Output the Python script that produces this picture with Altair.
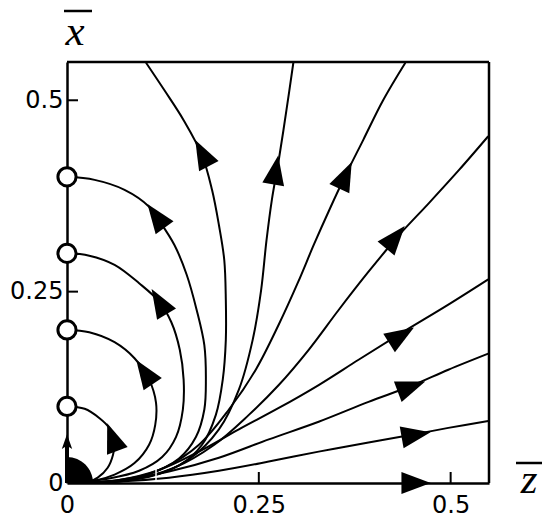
import math
import altair as alt
import pandas as pd

W, H = 422, 421
DOM = [0, 0.55]

# ---- trajectories (z, x), ordered from the origin outward ----
c1_z = [0, 0.029, 0.040, 0.053, 0.060, 0.062, 0.055, 0.042, 0.023, 0.0]
c1_x = [0, 0.002, 0.007, 0.020, 0.037, 0.053, 0.072, 0.085, 0.097, 0.1]
c2_z = [0, 0.036, 0.062, 0.088, 0.107, 0.115, 0.116, 0.107, 0.088, 0.062, 0.029, 0.0]
c2_x = [0, 0.003, 0.011, 0.026, 0.050, 0.076, 0.105, 0.135, 0.163, 0.184, 0.197, 0.2]
c3_z = [0, 0.055, 0.094, 0.124, 0.142, 0.151, 0.152, 0.147, 0.136, 0.120, 0.094, 0.062, 0.029, 0.0]
c3_x = [0, 0.006, 0.016, 0.034, 0.060, 0.096, 0.135, 0.174, 0.210, 0.237, 0.261, 0.285, 0.297, 0.3]
c4_z = [0, 0.062, 0.107, 0.146, 0.168, 0.179, 0.181, 0.179, 0.169, 0.156, 0.140, 0.120, 0.107, 0.075, 0.036, 0.0]
c4_x = [0, 0.003, 0.012, 0.032, 0.060, 0.096, 0.135, 0.180, 0.226, 0.272, 0.311, 0.343, 0.361, 0.383, 0.396, 0.4]
c5_z = [0, 0.094, 0.146, 0.176, 0.194, 0.203, 0.207, 0.207, 0.205, 0.198, 0.189, 0.176, 0.152, 0.127, 0.103]
c5_x = [0, 0.006, 0.023, 0.050, 0.089, 0.135, 0.187, 0.239, 0.291, 0.337, 0.383, 0.428, 0.474, 0.513, 0.549]
c6_z = [0, 0.107, 0.159, 0.198, 0.224, 0.242, 0.253, 0.260, 0.267, 0.276, 0.286, 0.295]
c6_x = [0, 0.008, 0.031, 0.070, 0.122, 0.187, 0.252, 0.317, 0.370, 0.422, 0.487, 0.549]
c7_z = [0, 0.081, 0.127, 0.172, 0.211, 0.246, 0.276, 0.301, 0.322, 0.342, 0.363, 0.386, 0.412, 0.441]
c7_x = [0, 0.004, 0.020, 0.050, 0.096, 0.148, 0.207, 0.262, 0.312, 0.357, 0.402, 0.448, 0.500, 0.549]
c8_z = [0, 0.081, 0.140, 0.192, 0.237, 0.276, 0.315, 0.354, 0.393, 0.432, 0.472, 0.511, 0.549]
c8_x = [0, 0.004, 0.020, 0.050, 0.089, 0.128, 0.174, 0.226, 0.276, 0.323, 0.366, 0.409, 0.453]
c9_z = [0, 0.068, 0.120, 0.172, 0.224, 0.276, 0.328, 0.380, 0.436, 0.497, 0.549]
c9_x = [0, 0.004, 0.017, 0.041, 0.070, 0.098, 0.128, 0.161, 0.196, 0.233, 0.266]
c10_z = [0, 0.068, 0.133, 0.198, 0.263, 0.328, 0.393, 0.449, 0.497, 0.549]
c10_x = [0, 0.003, 0.015, 0.033, 0.057, 0.080, 0.106, 0.127, 0.148, 0.169]
c11_z = [0, 0.068, 0.133, 0.198, 0.263, 0.328, 0.393, 0.455, 0.497, 0.549]
c11_x = [0, 0.002, 0.007, 0.016, 0.028, 0.041, 0.053, 0.064, 0.072, 0.081]
zaxis_z = [0, 0.55]
zaxis_x = [0, 0]
xaxis_z = [0, 0]
xaxis_x = [0, 0.55]

curves = {
    "c1": (c1_z, c1_x), "c2": (c2_z, c2_x), "c3": (c3_z, c3_x), "c4": (c4_z, c4_x),
    "c5": (c5_z, c5_x), "c6": (c6_z, c6_x), "c7": (c7_z, c7_x), "c8": (c8_z, c8_x),
    "c9": (c9_z, c9_x), "c10": (c10_z, c10_x), "c11": (c11_z, c11_x),
}
guides = {"zaxis": (zaxis_z, zaxis_x), "xaxis": (xaxis_z, xaxis_x)}

# ---- arrow heads (curve, z, x) ----
arrow_curve = ["c1", "c2", "c3", "c4", "c5", "c6", "c7", "c8", "c9", "c10", "c11", "zaxis"]
arrow_z = [0.059, 0.101, 0.120, 0.116, 0.176, 0.272, 0.363, 0.428, 0.436, 0.449, 0.455, 0.455]
arrow_x = [0.060, 0.145, 0.237, 0.349, 0.431, 0.409, 0.402, 0.321, 0.193, 0.126, 0.063, 0.0]

small_arrow_z = [0.0]
small_arrow_x = [0.054]

# ---- fixed points (open circles) ----
circle_z = [0, 0, 0, 0]
circle_x = [0.1, 0.2, 0.3, 0.4]

tick_vals = [0.25, 0.5]
label_vals = [0, 0.25, 0.5]

# ---------------------------------------------------------------------------
rows = []
for name, (zs, xs_) in curves.items():
    for i, (a, b) in enumerate(zip(zs, xs_)):
        rows.append({"curve": name, "i": i, "z": a, "x": b})
lines_df = pd.DataFrame(rows)

allc = dict(curves)
allc.update(guides)


def heading(name, pz, px):
    zs, xs_ = allc[name]
    best, bj = 1e9, 0
    for j in range(len(zs) - 1):
        ax, ay, bx, by = zs[j], xs_[j], zs[j + 1], xs_[j + 1]
        dx, dy = bx - ax, by - ay
        L = dx * dx + dy * dy
        t = 0 if L == 0 else max(0, min(1, ((pz - ax) * dx + (px - ay) * dy) / L))
        d = (ax + t * dx - pz) ** 2 + (ay + t * dy - px) ** 2
        if d < best:
            best, bj = d, j
    dz = zs[bj + 1] - zs[bj]
    dxx = xs_[bj + 1] - xs_[bj]
    return (math.degrees(math.atan2(dz, dxx)) + 360) % 360


arrows_df = pd.DataFrame({
    "z": arrow_z, "x": arrow_x,
    "angle": [heading(c, a, b) for c, a, b in zip(arrow_curve, arrow_z, arrow_x)],
})
small_df = pd.DataFrame({"z": small_arrow_z, "x": small_arrow_x,
                         "angle": [heading("xaxis", a, b) for a, b in zip(small_arrow_z, small_arrow_x)]})
circ_df = pd.DataFrame({"z": circle_z, "x": circle_x})
ticks_df = pd.DataFrame({"v": tick_vals})

xs = alt.Scale(domain=DOM, nice=False, zero=False)
ys = alt.Scale(domain=DOM, nice=False, zero=False)

x_axis = alt.Axis(values=label_vals, format=".2~f", title=None, grid=False, ticks=False,
                  domainColor="black", domainWidth=2.5, labelFont="DejaVu Sans",
                  labelFontSize=24, labelColor="black", labelPadding=10, labelFlush=False)
y_axis = alt.Axis(values=label_vals, format=".2~f", title=None, grid=False, ticks=False,
                  domainColor="black", domainWidth=2.5, labelFont="DejaVu Sans",
                  labelFontSize=24, labelColor="black", labelPadding=4, labelFlush=False)


def X(field):
    return alt.X(field, scale=xs, axis=x_axis)


def Y(field):
    return alt.Y(field, scale=ys, axis=y_axis)


lines = alt.Chart(lines_df).mark_line(
    color="black", strokeWidth=2, interpolate="catmull-rom", clip=True
).encode(x=X("z:Q"), y=Y("x:Q"), detail="curve:N", order="i:Q")

ARROW = "M0,-1L0.75,1L-0.75,1Z"
arrows = alt.Chart(arrows_df).mark_point(
    shape=ARROW, filled=True, color="black", size=860, opacity=1, strokeWidth=0
).encode(x=X("z:Q"), y=Y("x:Q"), angle=alt.Angle("angle:Q", scale=None))

small = alt.Chart(small_df).mark_point(
    shape="M0,-1L0.7,1L0,0.55L-0.7,1Z", filled=True, color="black", size=220, opacity=1, strokeWidth=0
).encode(x=X("z:Q"), y=Y("x:Q"), angle=alt.Angle("angle:Q", scale=None))

thick_axis = alt.Chart(pd.DataFrame({"z": [0], "x": [0], "x2": [small_arrow_x[0]]})).mark_rule(
    color="black", strokeWidth=4
).encode(x=X("z:Q"), y=Y("x:Q"), y2="x2:Q")

disk = alt.Chart(pd.DataFrame({"z": [0], "x": [0]})).mark_point(
    shape="M0,0L0,-1A1,1,0,0,1,1,0Z", filled=True, color="black", size=2704, opacity=1, strokeWidth=0
).encode(x=X("z:Q"), y=Y("x:Q"))

white_tick = alt.Chart(pd.DataFrame({"z": [0.116], "x": [0.002], "x2": [0.02]})).mark_rule(
    color="white", strokeWidth=1.5
).encode(x=X("z:Q"), y=Y("x:Q"), y2="x2:Q")

xticks = alt.Chart(ticks_df).mark_rule(color="black", strokeWidth=2).encode(
    x=X("v:Q"), y=alt.value(H), y2=alt.value(H - 11)
)
yticks = alt.Chart(ticks_df).mark_rule(color="black", strokeWidth=2).encode(
    y=Y("v:Q"), x=alt.value(0), x2=alt.value(11)
)

frame_top = alt.Chart(pd.DataFrame({"a": [0]})).mark_rule(color="black", strokeWidth=2.5).encode(
    x=alt.value(0), x2=alt.value(W), y=alt.value(0)
)
frame_right = alt.Chart(pd.DataFrame({"a": [0]})).mark_rule(color="black", strokeWidth=2.5).encode(
    x=alt.value(W), y=alt.value(0), y2=alt.value(H)
)

circles = alt.Chart(circ_df).mark_point(
    shape="circle", filled=True, fill="white", stroke="black", strokeWidth=3, size=330, opacity=1
).encode(x=X("z:Q"), y=Y("x:Q"))

title_font = dict(font="Liberation Serif", fontStyle="italic", fontSize=43, color="black",
                  align="center", baseline="alphabetic")
tx = alt.Chart(pd.DataFrame({"t": ["x"]})).mark_text(**title_font).encode(
    text="t:N", x=alt.value(8), y=alt.value(-17)
)
tx_bar = alt.Chart(pd.DataFrame({"a": [0]})).mark_rule(color="black", strokeWidth=2.5).encode(
    x=alt.value(-3), x2=alt.value(25), y=alt.value(-51)
)
tz = alt.Chart(pd.DataFrame({"t": ["z"]})).mark_text(**title_font).encode(
    text="t:N", x=alt.value(462), y=alt.value(431)
)
tz_bar = alt.Chart(pd.DataFrame({"a": [0]})).mark_rule(color="black", strokeWidth=2.5).encode(
    x=alt.value(449), x2=alt.value(476), y=alt.value(401)
)

chart = alt.layer(
    lines, white_tick, xticks, yticks, frame_top, frame_right, thick_axis, disk,
    arrows, small, circles, tx, tx_bar, tz, tz_bar
).properties(
    width=W, height=H,
    autosize=alt.AutoSizeParams(type="none"),
    padding={"left": 59, "top": 54, "right": 53, "bottom": 35},
).configure_view(stroke=None).configure(background="white")

chart.save("out.html", embed_options={"renderer": "svg", "actions": False})
